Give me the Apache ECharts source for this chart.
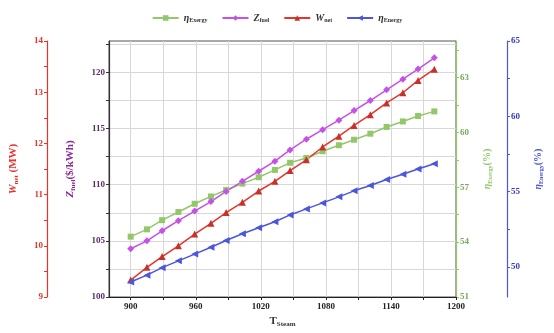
<!DOCTYPE html>
<html><head><meta charset="utf-8">
<script src="https://cdn.jsdelivr.net/npm/echarts@6/dist/echarts.min.js"></script>
<style>html,body{margin:0;padding:0;background:#fff}#c{width:554px;height:333px}</style>
</head><body><div id="c"></div>
<script>
const xValues = [900, 915, 929, 944, 959, 974, 988, 1003, 1018, 1033, 1047, 1062, 1077, 1092, 1106, 1121, 1136, 1151, 1165, 1180];
const etaExergy = [54.3, 54.7, 55.2, 55.65, 56.1, 56.5, 56.85, 57.2, 57.55, 57.95, 58.34, 58.6, 58.97, 59.3, 59.6, 59.93, 60.3, 60.6, 60.9, 61.15];
const zFuel = [104.3, 105.0, 105.9, 106.8, 107.65, 108.5, 109.4, 110.3, 111.2, 112.1, 113.1, 114.05, 114.9, 115.75, 116.6, 117.5, 118.45, 119.4, 120.3, 121.3];
const wNet = [9.33, 9.58, 9.79, 10.0, 10.23, 10.44, 10.65, 10.85, 11.07, 11.26, 11.47, 11.68, 11.93, 12.14, 12.35, 12.56, 12.79, 12.99, 13.23, 13.45];
const etaEnergy = [49.0, 49.45, 49.95, 50.4, 50.85, 51.3, 51.75, 52.2, 52.6, 53.0, 53.45, 53.85, 54.25, 54.65, 55.05, 55.4, 55.8, 56.15, 56.5, 56.85];
const xLabels = [900, 960, 1020, 1080, 1140, 1200];
const xTicks = [900, 930, 960, 990, 1020, 1050, 1080, 1110, 1140, 1170, 1200];
const zLabels = [100, 105, 110, 115, 120];
const zTicks = [100, 102.5, 105, 107.5, 110, 112.5, 115, 117.5, 120, 122.5];
const wLabels = [9, 10, 11, 12, 13, 14];
const wTicks = [9, 9.5, 10, 10.5, 11, 11.5, 12, 12.5, 13, 13.5, 14];
const exLabels = [51, 54, 57, 60, 63];
const exTicks = [51, 52.5, 54, 55.5, 57, 58.5, 60, 61.5, 63, 64.5];
const enLabels = [50, 55, 60, 65];
const enTicks = [50, 52.5, 55, 57.5, 60, 62.5, 65];

const FONT = 'Liberation Serif';
const cRed = '#e8332b', cPur = '#c552e6', cGreen = '#93c86a', cBlue = '#4a56dc';
function pairs(ys){ return xValues.map((x,i)=>[x, ys[i]]); }
function sub(color, size){
  return { a:{fontFamily:FONT,fontSize:size,color:color,fontWeight:'bold',fontStyle:'italic'},
           s:{fontFamily:FONT,fontSize:size-4,color:color,fontWeight:'bold',padding:[size-5,0,0,0]},
           t:{fontFamily:FONT,fontSize:size,color:color,fontWeight:'bold'} };
}
const plain = v => String(v);
const chart = echarts.init(document.getElementById('c'), null, {renderer:'canvas'});
const names = {ex:'ηExergy', z:'Zfuel', w:'Wnet', en:'ηEnergy'};
const legendFmt = {
  'ηExergy':'{a|η}{s|Exergy}', 'Zfuel':'{a|Z}{s|fuel}', 'Wnet':'{a|W}{s|net}', 'ηEnergy':'{a|η}{s|Energy}'
};
function yAxis(o){
  return Object.assign({
    type:'value', nameLocation:'middle', nameRotate:90,
    axisLine:{show:true, lineStyle:{color:o.color, width:1.2}},
    axisTick:{show:true, customValues:o.ticks, length:3, lineStyle:{color:o.color}},
    axisLabel:{customValues:o.labels, formatter:plain, fontFamily:FONT, fontSize:9, fontWeight:'bold', color:o.labelColor||o.color, margin:4},
    splitLine:{show:false}
  }, o.extra);
}
chart.setOption({
  animation:false,
  backgroundColor:'#fff',
  grid:{left:107, right:98, top:41, bottom:35, show:true, borderColor:'#555', borderWidth:1},
  legend:{
    top:8, left:'center', itemWidth:26, itemHeight:7, itemGap:14,
    data:[names.ex, names.z, names.w, names.en],
    formatter:n=>legendFmt[n],
    textStyle:{fontFamily:FONT, fontSize:10, color:'#222', rich:sub('#333',10)}
  },
  xAxis:{
    type:'value', min:880, max:1200,
    name:'{a|T}{s|Steam}', nameLocation:'middle', nameGap:18,
    nameTextStyle:{rich:{a:{fontFamily:FONT,fontSize:11,color:'#333',fontWeight:'bold'},s:{fontFamily:FONT,fontSize:7,color:'#333',fontWeight:'bold',padding:[6,0,0,0]}}},
    axisLine:{lineStyle:{color:'#222', width:1.2}},
    axisTick:{customValues:xTicks, length:3, lineStyle:{color:'#222'}},
    axisLabel:{customValues:xLabels, formatter:plain, fontFamily:FONT, fontSize:9, fontWeight:'bold', color:'#222', margin:5},
    splitLine:{show:true, lineStyle:{color:'#d8d8d8', width:1}}
  },
  yAxis:[
    yAxis({color:'#333', labelColor:'#5a2a66', ticks:zTicks, labels:zLabels, extra:{
      position:'left', offset:0, min:100, max:122.8,
      name:'{a|Z}{s|fuel}{t|($/kWh)}', nameGap:32,
      nameTextStyle:{rich:sub('#8a2a9a',11)},
      splitLine:{show:true, lineStyle:{color:'#d8d8d8', width:1}}
    }}),
    yAxis({color:cRed, ticks:wTicks, labels:wLabels, extra:{
      position:'left', offset:62, min:9, max:14,
      name:'{a|W}{s|net}{t| (MW)}', nameGap:27,
      nameTextStyle:{rich:sub(cRed,11)}
    }}),
    yAxis({color:cGreen, labelColor:'#7aa85a', ticks:exTicks, labels:exLabels, extra:{
      position:'right', offset:0, min:51, max:65,
      name:'{a|η}{s|Exergy}{t|(%)}', nameGap:26,
      nameTextStyle:{rich:sub(cGreen,10)}
    }}),
    yAxis({color:cBlue, labelColor:'#3838c8', ticks:enTicks, labels:enLabels, extra:{
      position:'right', offset:51, min:48, max:65,
      name:'{a|η}{s|Energy}{t|(%)}', nameGap:26,
      nameTextStyle:{rich:sub(cBlue,10)}
    }})
  ],
  series:[
    {name:names.ex, type:'line', yAxisIndex:2, data:pairs(etaExergy), symbol:'rect', symbolSize:6,
     lineStyle:{color:cGreen, width:1.5}, itemStyle:{color:cGreen}},
    {name:names.z, type:'line', yAxisIndex:0, data:pairs(zFuel), symbol:'diamond', symbolSize:7,
     lineStyle:{color:cPur, width:1.5}, itemStyle:{color:cPur}},
    {name:names.w, type:'line', yAxisIndex:1, data:pairs(wNet), symbol:'triangle', symbolSize:7,
     lineStyle:{color:cRed, width:1.5}, itemStyle:{color:'#c8302a'}},
    {name:names.en, type:'line', yAxisIndex:3, data:pairs(etaEnergy), symbol:'triangle', symbolRotate:90, symbolSize:7,
     lineStyle:{color:cBlue, width:1.5}, itemStyle:{color:cBlue}}
  ]
});
</script></body></html>
